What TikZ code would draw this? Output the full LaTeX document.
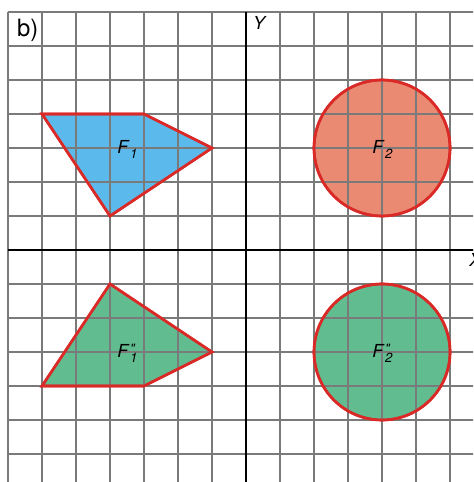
\documentclass[tikz,border=0pt]{standalone}
\usepackage{fontspec}
\setmainfont{TeX Gyre Heros}
\definecolor{gridgray}{HTML}{7A7A7A}
\definecolor{fillblue}{HTML}{5BB9EB}
\definecolor{fillred}{HTML}{EB8A72}
\definecolor{fillgreen}{HTML}{61BC8F}
\definecolor{edgered}{HTML}{DA2A27}
\newcommand\smallfnt{\fontsize{11}{11}\selectfont}
\newcommand\flabel[2]{\textit{F}\kern0.03em\raisebox{-0.3em}{\rlap{\smallfnt\textit{#1}}}\raisebox{0.2em}{\rlap{\smallfnt\textit{#2}}}\phantom{\smallfnt\textit{#1}}}
\tikzset{
  gridline/.style={draw=gridgray, line width=1pt},
  axisline/.style={draw=black, line width=1.5pt},
  shape1/.style={draw=edgered, line width=2.2pt, line join=miter},
  lbl/.style={font=\fontsize{15}{15}\selectfont, inner sep=0pt, anchor=base west}
}
\begin{document}
\begin{tikzpicture}[x=1cm,y=1cm]
\useasboundingbox (-246/34,-232/34) rectangle (227/34,250/34);
\clip (-246/34,-232/34) rectangle (227/34,250/34);
% grid
\foreach \i in {-7,...,6} \draw[gridline] (\i,-7) -- (\i,7);
\foreach \j in {-6,...,7} \draw[gridline] (-7,\j) -- (7,\j);
% shapes
\filldraw[shape1, fill=fillblue] (-6,4) -- (-3,4) -- (-1,3) -- (-4,1) -- cycle;
\filldraw[shape1, fill=fillgreen] (-6,-4) -- (-3,-4) -- (-1,-3) -- (-4,-1) -- cycle;
\filldraw[shape1, fill=fillred] (4,3) circle (2);
\filldraw[shape1, fill=fillgreen] (4,-3) circle (2);
% grid over fills
\begin{scope}
\clip (-6,4) -- (-3,4) -- (-1,3) -- (-4,1) -- cycle;
\foreach \i in {-7,...,6} \draw[gridline] (\i,-7) -- (\i,7);
\foreach \j in {-6,...,7} \draw[gridline] (-7,\j) -- (7,\j);
\end{scope}
\begin{scope}
\clip (-6,-4) -- (-3,-4) -- (-1,-3) -- (-4,-1) -- cycle;
\foreach \i in {-7,...,6} \draw[gridline] (\i,-7) -- (\i,7);
\foreach \j in {-6,...,7} \draw[gridline] (-7,\j) -- (7,\j);
\end{scope}
\begin{scope}
\clip (4,3) circle (2);
\foreach \i in {-7,...,6} \draw[gridline] (\i,-7) -- (\i,7);
\foreach \j in {-6,...,7} \draw[gridline] (-7,\j) -- (7,\j);
\end{scope}
\begin{scope}
\clip (4,-3) circle (2);
\foreach \i in {-7,...,6} \draw[gridline] (\i,-7) -- (\i,7);
\foreach \j in {-6,...,7} \draw[gridline] (-7,\j) -- (7,\j);
\end{scope}
\draw[shape1] (-6,4) -- (-3,4) -- (-1,3) -- (-4,1) -- cycle;
\draw[shape1] (-6,-4) -- (-3,-4) -- (-1,-3) -- (-4,-1) -- cycle;
\draw[shape1] (4,3) circle (2);
\draw[shape1] (4,-3) circle (2);
% axes
\draw[axisline] (-7,0) -- (7,0);
\draw[axisline] (0,-7) -- (0,7);
% labels
\node[lbl] (yl) at (0.2,6.49) {\textit{Y}};
\node[lbl] (xl) at (6.56,-0.49) {\textit{X}};
\node[lbl, font=\fontsize{20}{20}\selectfont] (bl) at (-6.74,6.29) {b)};
\node[lbl] (f1) at (-3.79,2.85) {\flabel{1}{}};
\node[lbl] (f2) at (3.71,2.85) {\flabel{2}{}};
\node[lbl] (f1pp) at (-3.79,-3.15) {\flabel{1}{\textquotedbl}};
\node[lbl] (f2pp) at (3.71,-3.15) {\flabel{2}{\textquotedbl}};
\end{tikzpicture}
\end{document}
